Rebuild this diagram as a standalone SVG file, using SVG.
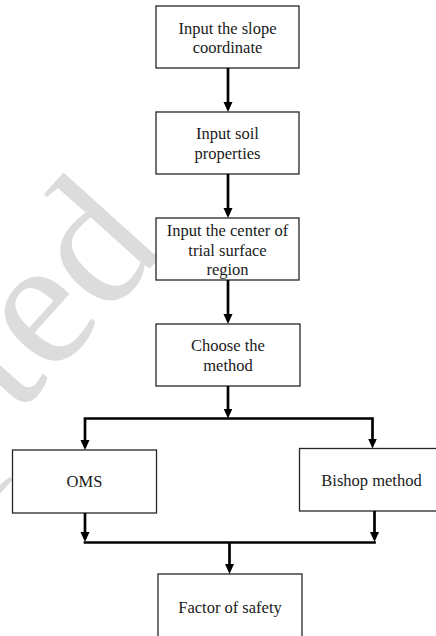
<svg xmlns="http://www.w3.org/2000/svg" width="436" height="636" viewBox="0 0 436 636">
<defs>
<style>
.box{fill:#fff;stroke:#262626;stroke-width:1.3}
.lbl{font-family:"Liberation Serif","Times New Roman",serif;font-size:16.5px;fill:#1a1a1a;text-anchor:middle}
.wm{font-family:"Liberation Serif","Times New Roman",serif;font-size:185px;fill:#dcdcdc}
.con{fill:none;stroke:#000;stroke-width:2.7}
</style>
<marker id="ah" markerUnits="userSpaceOnUse" markerWidth="10" markerHeight="10" viewBox="0 0 10 10" refX="1" refY="5" orient="auto-start-reverse"><path d="M0,0.5 L10,5 L0,9.5 z" fill="#000"/></marker>
</defs>
<rect width="436" height="636" fill="#fff"/>
<g id="watermark"><text class="wm" transform="translate(-300,768) rotate(-48)">Accepted</text></g>
<g id="n1"><rect class="box" x="156" y="6" width="143" height="62"/><text class="lbl"><tspan x="227.5" y="33.5">Input the slope</tspan><tspan x="227.5" y="52.5">coordinate</tspan></text></g>
<g id="n2"><rect class="box" x="156" y="112" width="143" height="62"/><text class="lbl"><tspan x="227.5" y="139">Input soil</tspan><tspan x="227.5" y="159">properties</tspan></text></g>
<g id="n3"><rect class="box" x="156" y="218" width="143" height="62"/><text class="lbl"><tspan x="227.5" y="236">Input the center of</tspan><tspan x="227.5" y="256">trial surface</tspan><tspan x="227.5" y="275">region</tspan></text></g>
<g id="n4"><rect class="box" x="156" y="324" width="144" height="62"/><text class="lbl"><tspan x="228" y="351">Choose the</tspan><tspan x="228" y="371">method</tspan></text></g>
<g id="n5"><rect class="box" x="12.5" y="450" width="144" height="63"/><text class="lbl" x="84.5" y="487">OMS</text></g>
<g id="n6"><rect class="box" x="299.5" y="448.5" width="144" height="62.5"/><text class="lbl" x="371.5" y="486">Bishop method</text></g>
<g id="n7"><rect class="box" x="158" y="574" width="144" height="70"/><text class="lbl" x="230" y="612.5">Factor of safety</text></g>
<g id="connectors">
<path class="con" d="M228,68 V103" marker-end="url(#ah)"/>
<path class="con" d="M228,174 V209" marker-end="url(#ah)"/>
<path class="con" d="M228,280 V315" marker-end="url(#ah)"/>
<path class="con" d="M228,386 V409.5" marker-end="url(#ah)"/>
<path class="con" d="M85,441 V418.5 H372.5 V439.5" marker-start="url(#ah)" marker-end="url(#ah)"/>
<path class="con" d="M85,513 V533" marker-end="url(#ah)"/>
<path class="con" d="M374.5,511 V533" marker-end="url(#ah)"/>
<path class="con" d="M85,542.5 H374.5" stroke-linecap="square"/>
<path class="con" d="M229.5,542.5 V565" marker-end="url(#ah)"/>
</g>
</svg>
